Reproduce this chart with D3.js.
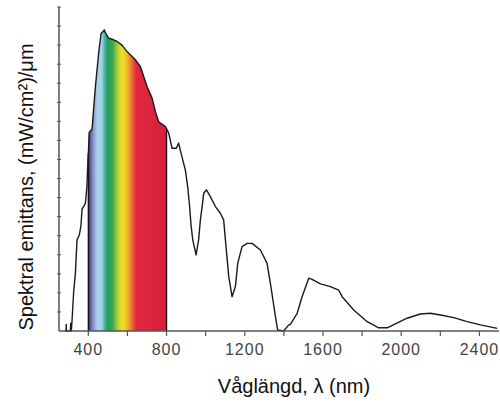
<!DOCTYPE html>
<html>
<head>
<meta charset="utf-8">
<script src="https://cdn.jsdelivr.net/npm/d3@7"></script>
<style>
  body { margin: 0; background: #fff; }
  svg { display: block; font-family: "Liberation Sans", Arial, sans-serif; }
</style>
</head>
<body>
<svg id="chart" width="500" height="404"></svg>
<script>
// wavelength (nm) and spectral emittance ((mW/cm2)/um)
const wavelengths = [280, 286, 287, 288, 308, 310, 311, 313, 317, 325, 334, 342, 354, 362, 368, 385, 393, 398, 401, 404, 419, 436, 453, 465, 482, 487, 504, 529, 547, 572, 598, 640, 666, 683, 700, 726, 743, 760, 794, 811, 828, 850, 862, 874, 896, 908, 918, 925, 934, 951, 964, 973, 982, 990, 1004, 1024, 1050, 1075, 1092, 1101, 1118, 1135, 1152, 1164, 1186, 1212, 1237, 1280, 1314, 1331, 1357, 1368, 1399, 1425, 1433, 1468, 1493, 1527, 1544, 1587, 1638, 1680, 1698, 1757, 1826, 1885, 1928, 1970, 2030, 2098, 2149, 2201, 2269, 2337, 2405, 2491];
const emittance = [0, 0, 3.5, 0, 0, 4, 0, 0, 6, 20.6, 30.5, 47.8, 50.4, 55, 64, 67, 76, 90, 95, 104, 106, 128, 146, 156, 158, 156.5, 153.7, 152.8, 151.9, 150, 146.6, 142.3, 138.8, 133.5, 128.3, 122.2, 115.1, 109.7, 107.3, 103.8, 95.9, 95.9, 98.6, 93.3, 84.5, 75.8, 65.3, 55.7, 47.8, 39.9, 47.8, 58.3, 65.3, 72.3, 74, 70.5, 65.3, 61.8, 58.3, 47.8, 28.5, 18, 23.3, 35.5, 44.3, 46, 46, 42.5, 35.5, 25, 7.5, 0.5, 0, 3.2, 3.5, 9.3, 18, 27.7, 27.1, 24.7, 23.3, 21.5, 18, 11, 4.9, 1.7, 1.7, 3.7, 6.7, 8.9, 9.3, 8.4, 7, 4.9, 3.2, 1.4];

const xTicksMajor = [400, 800, 1200, 1600, 2000, 2400];
const xTicksMinor = d3.range(400, 2401, 200);
const yTicks = d3.range(0, 171, 10);

// visible band colours (offset within 400-800 nm)
const bandStops = [
  [0, "#2e2262"], [0.03, "#6a62a8"], [0.07, "#8e9cd2"], [0.11, "#a8d0ec"],
  [0.17, "#a4d4e8"], [0.2, "#5cbcb4"], [0.24, "#22a060"], [0.31, "#3aa64e"],
  [0.38, "#b8d234"], [0.44, "#f0e020"], [0.5, "#f2b42a"], [0.56, "#ec6a34"],
  [0.61, "#e02840"], [1, "#d8203e"]
];

const data = wavelengths.map((w, i) => ({ w: w, v: emittance[i] }));

const svg = d3.select("#chart");
const x = d3.scaleLinear().domain([250, 2500]).range([59, 499]);
const y = d3.scaleLinear().domain([0, 170]).range([331, 7]);

// value of the curve at a wavelength (for the band edges)
const bis = d3.bisector((d) => d.w).left;
function valueAt(w) {
  const i = bis(data, w);
  const a = data[i - 1], b = data[i];
  return a.v + (b.v - a.v) * (w - a.w) / (b.w - a.w);
}

const defs = svg.append("defs");
const grad = defs.append("linearGradient")
  .attr("id", "band")
  .attr("gradientUnits", "userSpaceOnUse")
  .attr("x1", x(400)).attr("x2", x(800))
  .attr("y1", 0).attr("y2", 0);
bandStops.forEach((s) => {
  grad.append("stop").attr("offset", s[0]).attr("stop-color", s[1]);
});
defs.append("clipPath").attr("id", "visible")
  .append("rect")
  .attr("x", x(400)).attr("width", x(800) - x(400))
  .attr("y", 0).attr("height", y(0));

const area = d3.area().x((d) => x(d.w)).y0(y(0)).y1((d) => y(d.v));
const line = d3.line().x((d) => x(d.w)).y((d) => y(d.v));

svg.append("path")
  .datum(data)
  .attr("d", area)
  .attr("fill", "url(#band)")
  .attr("clip-path", "url(#visible)");

// band edges
[400, 800].forEach((w) => {
  svg.append("line")
    .attr("x1", x(w)).attr("x2", x(w))
    .attr("y1", y(0)).attr("y2", y(valueAt(w)))
    .attr("stroke", "#111").attr("stroke-width", 1.3);
});

svg.append("path")
  .datum(data)
  .attr("d", line)
  .attr("fill", "none")
  .attr("stroke", "#1a1a1a")
  .attr("stroke-width", 1.4)
  .attr("stroke-linejoin", "round");

// axes
const axisColor = "#555";
svg.append("line")
  .attr("x1", x(250)).attr("x2", x(2500))
  .attr("y1", y(0)).attr("y2", y(0))
  .attr("stroke", axisColor).attr("stroke-width", 1.5);
svg.append("line")
  .attr("x1", x(250)).attr("x2", x(250))
  .attr("y1", y(0)).attr("y2", y(170))
  .attr("stroke", axisColor).attr("stroke-width", 1.5);

svg.selectAll(".xtick")
  .data(xTicksMinor)
  .join("line")
  .attr("class", "xtick")
  .attr("x1", (d) => x(d)).attr("x2", (d) => x(d))
  .attr("y1", y(0)).attr("y2", y(0) + 5)
  .attr("stroke", axisColor).attr("stroke-width", 1.2);

svg.selectAll(".ytick")
  .data(yTicks.slice(1))
  .join("line")
  .attr("class", "ytick")
  .attr("x1", x(250) - 2).attr("x2", x(250) + 2)
  .attr("y1", (d) => y(d)).attr("y2", (d) => y(d))
  .attr("stroke", axisColor).attr("stroke-width", 1);

svg.selectAll(".xlabel")
  .data(xTicksMajor)
  .join("text")
  .attr("class", "xlabel")
  .attr("x", (d) => x(d))
  .attr("y", 355)
  .attr("text-anchor", "middle")
  .attr("font-size", 16)
  .attr("letter-spacing", 1)
  .attr("fill", "#444")
  .text((d) => d);

svg.append("text")
  .attr("x", 294)
  .attr("y", 393)
  .attr("text-anchor", "middle")
  .attr("font-size", 20)
  .attr("fill", "#111")
  .text("Våglängd, λ (nm)");

svg.append("text")
  .attr("transform", "translate(33,187) rotate(-90)")
  .attr("text-anchor", "middle")
  .attr("font-size", 20)
  .attr("fill", "#111")
  .text("Spektral emittans, (mW/cm²)/μm");
</script>
</body>
</html>
